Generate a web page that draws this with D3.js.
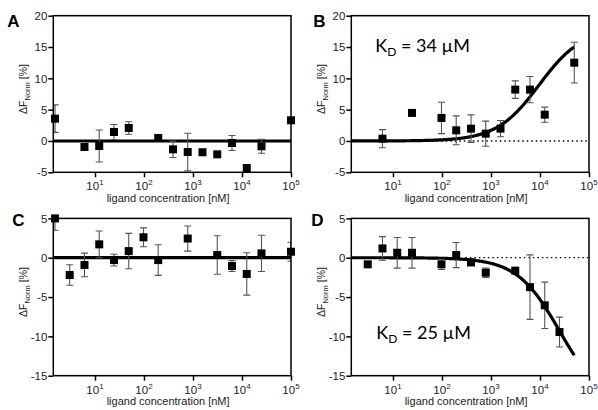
<!DOCTYPE html>
<html><head><meta charset="utf-8">
<script src="https://cdn.jsdelivr.net/npm/d3@7"></script>
<style>body{margin:0;background:#fff}svg{display:block}</style>
</head><body>
<svg id="c" width="598" height="410"></svg>
<script>
// ---- data ----
const xTickValues = [10, 100, 1000, 10000, 100000];
const xTickExponents = ["1", "2", "3", "4", "5"];
const yTicksTop = [-5, 0, 5, 10, 15, 20];
const yTicksBottom = [-15, -10, -5, 0, 5];

const concA = [1.53, 6.1, 12.2, 24.4, 48.8, 195, 391, 781, 1563, 3125, 6250, 12500, 25000, 100000];
const valA  = [3.57, -0.96, -0.8, 1.44, 2.08, 0.48, -1.33, -1.76, -1.8, -2.13, -0.32, -4.32, -0.85, 3.3];
const errA  = [2.2, 0.4, 2.55, 1.2, 1.0, 0, 1.3, 3.0, 0, 0, 1.2, 0, 1.1, 0];

const concB = [6.1, 24.4, 97.7, 195, 391, 781, 1563, 3125, 6250, 12500, 50000];
const valB  = [0.37, 4.48, 3.68, 1.7, 1.97, 1.17, 1.97, 8.2, 8.2, 4.2, 12.5];
const errB  = [1.45, 0.3, 2.5, 2.3, 2.2, 2.0, 1.3, 1.4, 2.1, 1.2, 3.25];

const concC = [1.53, 3.05, 6.1, 12.2, 24.4, 48.8, 97.7, 195, 781, 3125, 6250, 12500, 25000, 100000];
const valC  = [5.0, -2.2, -0.92, 1.7, -0.3, 0.84, 2.6, -0.3, 2.44, 0.34, -1.05, -2.06, 0.55, 0.76];
const errC  = [1.5, 1.3, 1.5, 1.7, 0.75, 2.25, 1.2, 1.95, 1.6, 2.45, 0.7, 2.7, 2.3, 1.2];

const concD = [3.05, 6.1, 12.2, 24.4, 97.7, 195, 391, 781, 3125, 6250, 12500, 25000];
const valD  = [-0.84, 1.18, 0.63, 0.63, -0.84, 0.34, -0.6, -1.9, -1.64, -3.74, -6.05, -9.45];
const errD  = [0, 1.5, 1.95, 1.95, 0.65, 1.6, 0.3, 0.6, 0.4, 4.1, 2.95, 1.9];

// binding-curve parameters (amplitude, half-point in nM)
const fitB = {amp: 17.9, k: 9600, end: 50000};
const fitD = {amp: -18.6, k: 25000, end: 50000};
const kdLabels = {B: "34", D: "25"};

// ---- drawing ----
const svg = d3.select("#c");
const FONT = "Liberation Sans, Arial, Helvetica, sans-serif";
const xMin = 1.41, xMax = 100000;
const fmtY = d => String(d).replace("\u2212", "-");

function panel(o) {
  const g = svg.append("g").attr("transform", `translate(${o.x0},${o.y0})`);
  const W = 237.7, H = o.h;
  const x = d3.scaleLog().domain([xMin, xMax]).range([0, W]);
  const y = d3.scaleLinear().domain(o.yDomain).range([H, 0]);
  const clipId = "clip" + o.label;
  g.append("clipPath").attr("id", clipId).append("rect").attr("x", 0).attr("y", 0).attr("width", W).attr("height", H);

  if (o.dotted) {
    g.append("line").attr("x1", x(o.dottedFrom)).attr("x2", W).attr("y1", y(0)).attr("y2", y(0))
      .attr("stroke", "#000").attr("stroke-width", 1.3).attr("stroke-dasharray", "1.5,3");
  }
  if (o.flat) {
    g.append("line").attr("x1", 0).attr("x2", W).attr("y1", y(0)).attr("y2", y(0))
      .attr("stroke", "#000").attr("stroke-width", 3.2);
  }
  if (o.fit) {
    const pts = d3.range(0, 201).map(i => {
      const c = Math.pow(10, Math.log10(xMin) + (Math.log10(o.fit.end) - Math.log10(xMin)) * i / 200);
      return [c, o.fit.amp * c / (c + o.fit.k)];
    });
    g.append("path").attr("d", d3.line().x(d => x(d[0])).y(d => y(d[1]))(pts))
      .attr("fill", "none").attr("stroke", "#000").attr("stroke-width", 3.2);
  }
  const data = o.conc.map((c, i) => ({c, v: o.val[i], e: o.err[i]}));
  const eb = g.append("g").attr("clip-path", `url(#${clipId})`).attr("stroke", "#555").attr("stroke-width", 1.1);
  data.filter(d => d.e > 0).forEach(d => {
    const cx = x(d.c);
    eb.append("line").attr("x1", cx).attr("x2", cx).attr("y1", y(d.v + d.e)).attr("y2", y(d.v - d.e));
    [d.v + d.e, d.v - d.e].forEach(v => {
      eb.append("line").attr("x1", cx - 3.5).attr("x2", cx + 3.5).attr("y1", y(v)).attr("y2", y(v));
    });
  });
  g.selectAll("rect.pt").data(data).join("rect").attr("class", "pt")
    .attr("x", d => x(d.c) - 4).attr("y", d => y(d.v) - 4).attr("width", 8).attr("height", 8).attr("fill", "#000");

  g.append("rect").attr("x", 0).attr("y", 0).attr("width", W).attr("height", H)
    .attr("fill", "none").attr("stroke", "#000").attr("stroke-width", 1.5);

  const xa = g.append("g").attr("transform", `translate(0,${H})`)
    .call(d3.axisBottom(x).tickValues(xTickValues).tickSize(5).tickFormat(""));
  xa.select(".domain").remove();
  xa.selectAll("line").attr("stroke-width", 1.5);
  xTickValues.forEach((t, i) => {
    const tx = g.append("text").attr("x", x(t)).attr("y", H + 18).attr("text-anchor", "middle")
      .attr("font-family", FONT).attr("font-size", 11.5).attr("fill", "#222");
    tx.append("tspan").text("10");
    tx.append("tspan").attr("dy", -5).attr("font-size", 8).text(xTickExponents[i]);
  });
  g.append("text").attr("x", W / 2 - 4).attr("y", H + 29.5).attr("text-anchor", "middle")
    .attr("font-family", FONT).attr("font-size", 11).attr("fill", "#222").text("ligand concentration [nM]");

  const ya = g.append("g").call(d3.axisLeft(y).tickValues(o.yTicks).tickSize(5).tickFormat(fmtY));
  ya.select(".domain").remove();
  ya.selectAll("line").attr("stroke-width", 1.5);
  ya.selectAll("text").attr("font-family", FONT).attr("font-size", 11.5).attr("fill", "#222").attr("dx", 2);

  const yl = g.append("text").attr("transform", `translate(-26,${H / 2 - 5}) rotate(-90)`)
    .attr("text-anchor", "middle").attr("font-family", FONT).attr("font-size", 10.5).attr("fill", "#222");
  yl.append("tspan").text("\u0394F");
  yl.append("tspan").attr("dy", 2.5).attr("font-size", 7.5).text("Norm");
  yl.append("tspan").attr("dy", -2.5).text(" [%]");

  g.append("text").attr("x", o.letterX).attr("y", o.letterY).attr("font-family", FONT)
    .attr("font-weight", "bold").attr("font-size", 17).attr("fill", "#000").text(o.label);

  if (o.kd) {
    const t = g.append("text").attr("x", o.kdX).attr("y", o.kdY).attr("font-family", "Lato, 'Open Sans', sans-serif")
      .attr("font-size", 18).attr("fill", "#000");
    t.append("tspan").text("K");
    t.append("tspan").attr("dy", 4).attr("font-size", 12).text("D");
    t.append("tspan").attr("dy", -4).text(" = " + o.kd + " \u00b5M");
  }
}

panel({label: "A", x0: 53.3, y0: 15.7, h: 156.6, yDomain: [-5, 20], yTicks: yTicksTop,
  conc: concA, val: valA, err: errA, flat: true, letterX: -46, letterY: 11});
panel({label: "B", x0: 351.3, y0: 15.7, h: 156.6, yDomain: [-5, 20], yTicks: yTicksTop,
  conc: concB, val: valB, err: errB, fit: fitB, dotted: true, dottedFrom: xMin,
  kd: kdLabels.B, kdX: 24, kdY: 36, letterX: -38, letterY: 11});
panel({label: "C", x0: 53.3, y0: 218.4, h: 157.3, yDomain: [-15, 5], yTicks: yTicksBottom,
  conc: concC, val: valC, err: errC, flat: true, letterX: -41, letterY: 8});
panel({label: "D", x0: 351.3, y0: 218.4, h: 157.3, yDomain: [-15, 5], yTicks: yTicksBottom,
  conc: concD, val: valD, err: errD, fit: fitD, dotted: true, dottedFrom: 300,
  kd: kdLabels.D, kdX: 25, kdY: 121, letterX: -40, letterY: 8});
</script>
</body></html>
